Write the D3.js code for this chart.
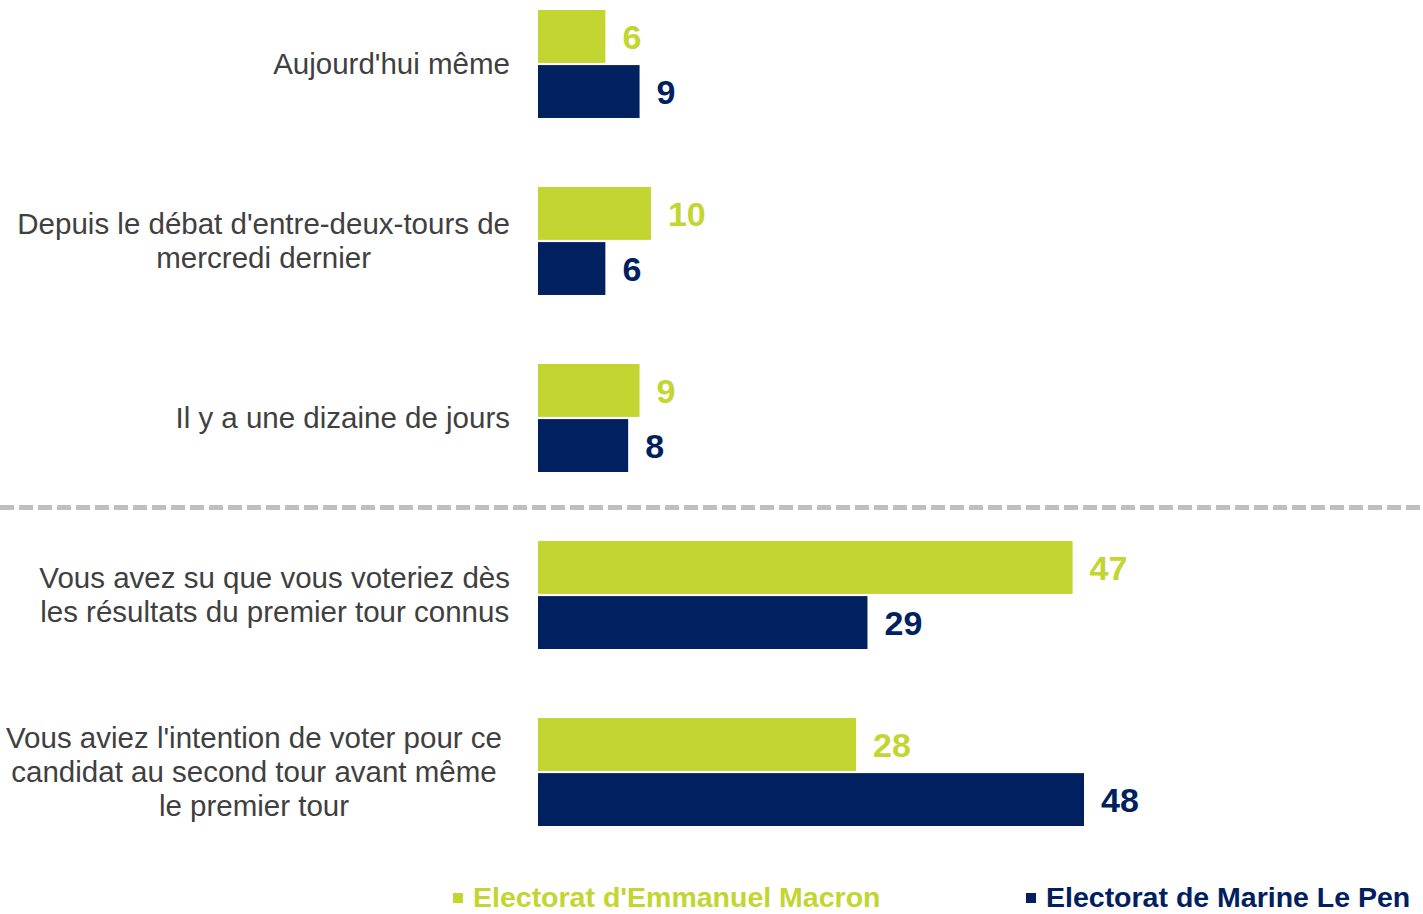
<!DOCTYPE html>
<html>
<head>
<meta charset="utf-8">
<script src="https://cdn.jsdelivr.net/npm/d3@7"></script>
<style>
  html, body { margin: 0; padding: 0; background: #fff; }
  svg { display: block; }
</style>
</head>
<body>
<svg id="chart" width="1423" height="914"></svg>
<script>
const categories = [
  ["Aujourd'hui même"],
  ["Depuis le débat d'entre-deux-tours de", "mercredi dernier"],
  ["Il y a une dizaine de jours"],
  ["Vous avez su que vous voteriez dès", "les résultats du premier tour connus"],
  ["Vous aviez l'intention de voter pour ce", "candidat au second tour avant même", "le premier tour"]
];
const seriesNames = ["Electorat d'Emmanuel Macron", "Electorat de Marine Le Pen"];
const macronValues = [6, 10, 9, 47, 28];
const lepenValues = [9, 6, 8, 29, 48];
const seriesColors = ["#C3D530", "#002060"];

const svg = d3.select("#chart");
const W = 1423, H = 914;
const font = "Liberation Sans, Arial, sans-serif";

const idx = d3.range(categories.length);
const y = d3.scaleBand().domain(idx).range([10, 826]).paddingInner(0.39).paddingOuter(0);
const ySub = d3.scaleBand().domain([0, 1]).range([0, y.bandwidth()]).paddingInner(0.04);
const x = d3.scaleLinear().domain([0, 48]).range([537, 1084]);

const data = idx.map(i => ({ i, values: [macronValues[i], lepenValues[i]] }));

// separator dashed line between group 3 and 4
const sepY = (y(2) + y.bandwidth() + y(3)) / 2 + 1;
svg.append("line")
  .attr("x1", 0).attr("x2", W)
  .attr("y1", sepY).attr("y2", sepY)
  .attr("stroke", "#BFBFBF").attr("stroke-width", 5)
  .attr("stroke-dasharray", "14,5");

const groups = svg.selectAll("g.grp").data(data).enter().append("g")
  .attr("class", "grp")
  .attr("transform", d => `translate(0,${y(d.i)})`);

groups.selectAll("rect").data(d => d.values.map((v, s) => ({ v, s }))).enter().append("rect")
  .attr("x", x(0) + 1)
  .attr("y", d => ySub(d.s))
  .attr("width", d => x(d.v) - x(0) - 1)
  .attr("height", ySub.bandwidth())
  .attr("fill", d => seriesColors[d.s]);

groups.selectAll("text.val").data(d => d.values.map((v, s) => ({ v, s }))).enter().append("text")
  .attr("class", "val")
  .attr("x", d => x(d.v) + 17)
  .attr("y", d => ySub(d.s) + ySub.bandwidth() / 2)
  .attr("dy", "0.36em")
  .attr("font-family", font)
  .attr("font-weight", "bold")
  .attr("font-size", 34)
  .attr("fill", d => seriesColors[d.s])
  .text(d => d.v);

// category labels, centered lines, block right-aligned
const labelRight = [510, 510, 510, 510, 502];
const lineH = 34;
groups.each(function(d) {
  const g = d3.select(this);
  const lines = categories[d.i];
  const t = g.append("text")
    .attr("font-family", font)
    .attr("font-size", 29.5)
    .attr("fill", "#404040")
    .attr("text-anchor", "middle");
  const n = lines.length;
  const cy = y.bandwidth() / 2;
  lines.forEach((ln, k) => {
    t.append("tspan")
      .attr("y", cy + (k - (n - 1) / 2) * lineH)
      .attr("dy", "0.35em")
      .text(ln);
  });
  let maxW = 0;
  t.selectAll("tspan").each(function() { maxW = Math.max(maxW, this.getComputedTextLength()); });
  t.selectAll("tspan").attr("x", labelRight[d.i] - maxW / 2);
});

// legend
const legendX = [453, 1026];
const legendY = 897;
seriesNames.forEach((name, s) => {
  svg.append("rect")
    .attr("x", legendX[s]).attr("y", legendY - 4)
    .attr("width", 10).attr("height", 10)
    .attr("fill", seriesColors[s]);
  svg.append("text")
    .attr("x", legendX[s] + 20).attr("y", legendY)
    .attr("dy", "0.36em")
    .attr("font-family", font)
    .attr("font-weight", "bold")
    .attr("font-size", 28.5)
    .attr("fill", seriesColors[s])
    .text(name);
});
</script>
</body>
</html>
